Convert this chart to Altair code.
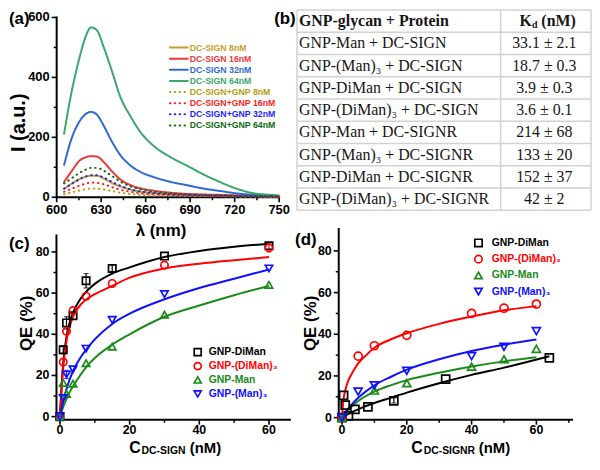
import altair as alt
import pandas as pd

W, H = 588, 448
FONT = "Liberation Sans"
SERIF = "Liberation Serif"

# ---------------- Panel (a): emission spectra ----------------
wavelength = [605, 610, 615, 620, 623, 627, 632, 637, 643, 650, 657, 665, 677, 688, 699, 710, 721, 733, 744, 750]
i_sign_8 = [28, 45, 60, 69, 72, 72, 62, 48, 36, 25, 18, 14, 10, 8, 7, 6, 5, 4, 3, 3]
i_sign_16 = [51, 86, 120, 134, 137, 136, 116, 88, 59, 40, 29, 22, 15, 11, 9, 8, 6, 5, 4, 4]
i_sign_32 = [108, 195, 250, 279, 285, 276, 236, 188, 140, 105, 83, 68, 51, 40, 29, 21, 13, 8, 6, 5]
i_sign_64 = [212, 350, 458, 542, 567, 558, 497, 425, 334, 268, 214, 173, 133, 105, 76, 51, 29, 13, 8, 5]
i_gnp_8 = [10, 16, 22, 27, 29, 29, 26, 21, 15, 11, 8, 6, 5, 4, 3, 3, 2, 2, 2, 2]
i_gnp_16 = [18, 28, 38, 46, 49, 48, 43, 34, 25, 18, 13, 10, 7, 6, 5, 4, 3, 3, 2, 2]
i_gnp_32 = [29, 44, 59, 70, 73, 73, 65, 52, 38, 26, 19, 14, 10, 8, 6, 5, 4, 3, 3, 2]
i_gnp_64 = [46, 63, 80, 93, 98, 98, 88, 72, 52, 36, 26, 19, 13, 10, 8, 6, 5, 4, 3, 3]
series_a = ["DC-SIGN 8nM", "DC-SIGN 16nM", "DC-SIGN 32nM", "DC-SIGN 64nM",
            "DC-SIGN+GNP 8nM", "DC-SIGN+GNP 16nM", "DC-SIGN+GNP 32nM", "DC-SIGN+GNP 64nM"]
values_a = [i_sign_8, i_sign_16, i_sign_32, i_sign_64, i_gnp_8, i_gnp_16, i_gnp_32, i_gnp_64]
line_colors_a = ["#C0A030", "#E8393B", "#2F6BD3", "#3AA86B", "#B0A010", "#FF1E1E", "#1E1EFF", "#0B6B12"]
text_colors_a = ["#C39A45", "#E8393B", "#1E3FE0", "#2E8B45", "#C39A45", "#FF1E1E", "#1E3FE0", "#2E8B45"]
ticks_a_x = [600, 630, 660, 690, 720, 750]
ticks_a_y = [0, 200, 400, 600]
minor_a_x = [615, 645, 675, 705, 735]
minor_a_y = [100, 300, 500]

# ---------------- Panel (b): table ----------------
table_glycan = ["GNP-Man + DC-SIGN", "GNP-(Man)\u2083 + DC-SIGN", "GNP-DiMan + DC-SIGN",
                "GNP-(DiMan)\u2083 + DC-SIGN", "GNP-Man + DC-SIGNR", "GNP-(Man)\u2083 + DC-SIGNR",
                "GNP-DiMan + DC-SIGNR", "GNP-(DiMan)\u2083 + DC-SIGNR"]
table_kd = ["33.1 \u00b1 2.1", "18.7 \u00b1 0.3", "3.9 \u00b1 0.3", "3.6 \u00b1 0.1",
            "214 \u00b1 68", "133 \u00b1 20", "152 \u00b1 37", "42 \u00b1 2"]

# ---------------- Panel (c): QE vs DC-SIGN ----------------
series_q = ["GNP-DiMan", "GNP-(DiMan)\u2083", "GNP-Man", "GNP-(Man)\u2083"]
conc_c = [0, 0.94, 1.88, 3.75, 7.5, 15, 30, 60]
qe_c_diman = [0, 32.5, 45.5, 49, 66, 72, 78, 83]
qe_c_diman3 = [0, 26.5, 41.5, 51.5, 58.5, 64.7, 73.6, 82]
qe_c_man = [0, 16.4, 11, 16, 26, 34, 49.5, 64]
qe_c_man3 = [0, 9, 20.5, 23, 33, 47, 59.5, 72]
fit_x_c = [0, 0.5, 1, 2, 3, 4, 6, 8, 10, 15, 20, 30, 40, 50, 60]
fit_c_diman = [0, 16, 27, 40, 47, 51.5, 57.5, 61.5, 64.5, 69.5, 72.5, 77.5, 80.5, 82.5, 84]
fit_c_diman3 = [0, 14, 25, 38, 45, 49.5, 54.5, 57.5, 59.5, 63.5, 67.5, 72, 74.3, 76, 77.5]
fit_c_man = [0, 2.5, 5, 9, 12.5, 15.5, 20.5, 25, 28.5, 35, 40, 48.5, 54, 59, 63.5]
fit_c_man3 = [0, 4, 8, 14, 19, 23, 29, 33.5, 37.5, 45, 50, 57, 62.5, 67, 71.5]
err_c_series = ["GNP-DiMan", "GNP-DiMan", "GNP-DiMan", "GNP-DiMan", "GNP-(Man)\u2083", "GNP-(DiMan)\u2083"]
err_c_x = [0.94, 1.88, 7.5, 15, 1.88, 60]
err_c_lo = [30.5, 42.5, 62.5, 70.5, 18.5, 80]
err_c_hi = [34.5, 48.5, 69.5, 73.5, 22.5, 84]

# ---------------- Panel (d): QE vs DC-SIGNR ----------------
conc_d_diman = [0, 0.5, 1, 2, 4, 8, 16, 32, 64]
qe_d_diman = [0, 10.7, 6, 0.8, 4, 5.2, 8, 18.5, 28.7]
conc_d_other = [0, 5, 10, 20, 40, 50, 60]
qe_d_diman3 = [0, 29.5, 34.5, 39.5, 50, 52.5, 54.5]
qe_d_man3 = [0, 12.5, 15.5, 22.5, 29.5, 34, 41.5]
conc_d_man = [0, 10, 20, 40, 50, 60]
qe_d_man = [0, 13, 16.5, 24.5, 28, 33]
fit_x_d_diman = [0, 2, 5, 10, 15, 20, 30, 40, 50, 64]
fit_d_diman = [0, 1.8, 4, 7, 9.5, 12, 16.5, 20.5, 24, 29.5]
fit_x_d_diman3 = [0, 0.5, 1, 2, 3, 5, 7.5, 10, 15, 20, 30, 40, 50, 60]
fit_d_diman3 = [0, 9, 13, 18, 21, 26, 30, 33.5, 37.5, 40.5, 45, 48.5, 51.5, 53.5]
fit_x_d_other = [0, 1, 2, 5, 10, 15, 20, 30, 40, 50, 60]
fit_d_man = [0, 2, 3.8, 8, 12.5, 15.5, 18, 21.5, 24.5, 27, 29]
fit_d_man3 = [0, 2.5, 4.5, 9.5, 15.5, 19.5, 23, 28, 32, 35, 37.5]
err_d_series = ["GNP-DiMan"]
err_d_x = [16]
err_d_lo = [7]
err_d_hi = [9.5]

ticks_q_x = [0, 20, 40, 60]
ticks_q_y = [0, 20, 40, 60, 80]
minor_c_x = [10, 30, 50]
minor_d_x = [10, 30, 50, 70]
minor_q_y = [10, 30, 50, 70]

colors_q = ["#000000", "#FF0000", "#1A8A1A", "#1010FF"]
text_colors_q = ["#000000", "#FF1010", "#1A8A1A", "#2020C8"]
shapes_q = ["square", "circle", "triangle-up", "triangle-down"]


# ---------------- helpers ----------------
def label(text, x, y, size, weight="bold", angle=0, align="left", baseline="alphabetic",
          color="black", font=FONT):
    return alt.Chart(pd.DataFrame({"t": [text]})).mark_text(
        text=text, font=font, fontSize=size, fontWeight=weight, angle=angle, align=align,
        baseline=baseline, color=color).encode(x=alt.value(x), y=alt.value(y))


def long_df(xs_list, ys_list, names):
    rows = []
    for xs, ys, n in zip(xs_list, ys_list, names):
        for a, b in zip(xs, ys):
            rows.append({"x": a, "y": b, "series": n})
    return pd.DataFrame(rows)


def axes_layers(xs_, ys_, xdom, ydom, xticks, yticks, minor_x, minor_y, x0, y0, lsize=13, lpad=7):
    """Axis lines, ticks and tick labels, all placed through the panel's scales."""
    out = []
    out.append(alt.Chart(pd.DataFrame({"a": [xdom[0]], "b": [xdom[1]]})).mark_rule(
        color="black", strokeWidth=2, strokeCap="square").encode(
        x=alt.X("a:Q", scale=xs_, axis=None), x2="b:Q", y=alt.value(y0)))
    out.append(alt.Chart(pd.DataFrame({"a": [ydom[0]], "b": [ydom[1]]})).mark_rule(
        color="black", strokeWidth=2, strokeCap="square").encode(
        y=alt.Y("a:Q", scale=ys_, axis=None), y2="b:Q", x=alt.value(x0)))
    dxt = pd.DataFrame({"v": xticks})
    dyt = pd.DataFrame({"v": yticks})
    out.append(alt.Chart(dxt).mark_rule(color="black", strokeWidth=1.6).encode(
        x=alt.X("v:Q", scale=xs_, axis=None), y=alt.value(y0), y2=alt.value(y0 + 5)))
    out.append(alt.Chart(pd.DataFrame({"v": minor_x})).mark_rule(color="black", strokeWidth=1.5).encode(
        x=alt.X("v:Q", scale=xs_, axis=None), y=alt.value(y0), y2=alt.value(y0 + 3)))
    out.append(alt.Chart(dxt).mark_text(font=FONT, fontSize=lsize, fontWeight="bold", baseline="top",
                                        align="center", color="black").encode(
        x=alt.X("v:Q", scale=xs_, axis=None), y=alt.value(y0 + lpad), text=alt.Text("v:Q", format="d")))
    out.append(alt.Chart(dyt).mark_rule(color="black", strokeWidth=1.6).encode(
        y=alt.Y("v:Q", scale=ys_, axis=None), x=alt.value(x0 - 5), x2=alt.value(x0)))
    out.append(alt.Chart(pd.DataFrame({"v": minor_y})).mark_rule(color="black", strokeWidth=1.5).encode(
        y=alt.Y("v:Q", scale=ys_, axis=None), x=alt.value(x0 - 3), x2=alt.value(x0)))
    out.append(alt.Chart(dyt).mark_text(font=FONT, fontSize=lsize, fontWeight="bold", baseline="middle",
                                        align="right", color="black").encode(
        y=alt.Y("v:Q", scale=ys_, axis=None), x=alt.value(x0 - 7), text=alt.Text("v:Q", format="d")))
    return out


# ---------------- Panel (a) ----------------
A_X0, A_X1, A_Y0, A_Y1 = 49, 273, 189, 8
A_XDOM, A_YDOM = [600, 750], [0, 600]
xa = alt.Scale(domain=A_XDOM, range=[A_X0, A_X1], nice=False, zero=False)
ya = alt.Scale(domain=A_YDOM, range=[A_Y0, A_Y1], nice=False, zero=False)
df_a = long_df([wavelength] * 8, values_a, series_a)
dash_range = [[1, 0]] * 4 + [[0.5, 4.6]] * 4
width_range = [2, 2, 2, 2, 3, 3, 3, 3]

lines_a = alt.Chart(df_a).mark_line(interpolate="monotone", strokeCap="round").encode(
    x=alt.X("x:Q", scale=xa, axis=None),
    y=alt.Y("y:Q", scale=ya, axis=None),
    color=alt.Color("series:N", scale=alt.Scale(domain=series_a, range=line_colors_a), legend=None),
    strokeDash=alt.StrokeDash("series:N", scale=alt.Scale(domain=series_a, range=dash_range), legend=None),
    strokeWidth=alt.StrokeWidth("series:N", scale=alt.Scale(domain=series_a, range=width_range), legend=None),
    order=alt.Order("x:Q"),
)
panel_a = alt.layer(*axes_layers(xa, ya, A_XDOM, A_YDOM, ticks_a_x, ticks_a_y, minor_a_x, minor_a_y,
                                 A_X0, A_Y0), lines_a)

leg_a_df = pd.DataFrame({"series": series_a})
leg_a_y = alt.Y("series:N", scale=alt.Scale(type="point", domain=series_a, range=[38.3, 116.7], padding=0), axis=None)
leg_a_lines = alt.Chart(leg_a_df).mark_rule(strokeCap="round").encode(
    x=alt.value(163), x2=alt.value(181), y=leg_a_y,
    color=alt.Color("series:N", scale=alt.Scale(domain=series_a, range=line_colors_a), legend=None),
    strokeDash=alt.StrokeDash("series:N", scale=alt.Scale(domain=series_a, range=[[1, 0]] * 4 + [[0.5, 4.4]] * 4), legend=None),
    strokeWidth=alt.StrokeWidth("series:N", scale=alt.Scale(domain=series_a, range=[2, 2, 2, 2, 2.8, 2.8, 2.8, 2.8]), legend=None),
)
leg_a_text = alt.Chart(leg_a_df).mark_text(align="left", baseline="middle", font=FONT, fontSize=8.8,
                                           fontWeight="bold").encode(
    x=alt.value(183), y=leg_a_y, text="series:N",
    color=alt.Color("series:N", scale=alt.Scale(domain=series_a, range=text_colors_a), legend=None),
)
legend_a = alt.layer(leg_a_lines, leg_a_text)

# ---------------- Panel (b) table ----------------
T_X0, T_XD, T_X1, T_Y0, T_Y1 = 291, 496, 587, 0.5, 202
yt = alt.Scale(domain=[0, 9], range=[T_Y0, T_Y1], nice=False, zero=False)
df_t = pd.DataFrame({"glycan": table_glycan, "kd": table_kd,
                     "mid": [i + 1.5 for i in range(len(table_glycan))]})
t_left = alt.Chart(df_t).mark_text(align="left", baseline="middle", font=SERIF, fontSize=16,
                                   color="#151515").encode(
    x=alt.value(T_X0 + 2), y=alt.Y("mid:Q", scale=yt, axis=None), text="glycan:N")
t_right = alt.Chart(df_t).mark_text(align="center", baseline="middle", font=SERIF, fontSize=16,
                                    color="#151515").encode(
    x=alt.value(540), y=alt.Y("mid:Q", scale=yt, axis=None), text="kd:N")
hdr = pd.DataFrame({"mid": [0.5]})
t_h1 = alt.Chart(hdr).mark_text(text="GNP-glycan + Protein", align="left", baseline="middle", font=SERIF,
                                fontSize=16, fontWeight="bold", color="#151515").encode(
    x=alt.value(T_X0 + 2), y=alt.Y("mid:Q", scale=yt, axis=None))
t_h2 = alt.Chart(hdr).mark_text(text="K", align="left", baseline="middle", font=SERIF,
                                fontSize=16, fontWeight="bold", color="#151515").encode(
    x=alt.value(515), y=alt.Y("mid:Q", scale=yt, axis=None))
t_h3 = alt.Chart(hdr).mark_text(text="d", align="left", baseline="middle", font=SERIF, dy=4,
                                fontSize=10, fontWeight="bold", color="#151515").encode(
    x=alt.value(527.5), y=alt.Y("mid:Q", scale=yt, axis=None))
t_h4 = alt.Chart(hdr).mark_text(text="(nM)", align="left", baseline="middle", font=SERIF,
                                fontSize=16, fontWeight="bold", color="#151515").encode(
    x=alt.value(537), y=alt.Y("mid:Q", scale=yt, axis=None))
t_hlines = alt.Chart(pd.DataFrame({"b": list(range(10))})).mark_rule(color="#d2d2d2", strokeWidth=1.5).encode(
    y=alt.Y("b:Q", scale=yt, axis=None), x=alt.value(T_X0), x2=alt.value(T_X1))
t_vlines = alt.Chart(pd.DataFrame({"c": [T_X0, T_XD, T_X1]})).mark_rule(color="#d2d2d2", strokeWidth=1.5).encode(
    x=alt.X("c:Q", scale=alt.Scale(domain=[0, W], range=[0, W], nice=False, zero=False), axis=None),
    y=alt.value(T_Y0), y2=alt.value(T_Y1))
table_b = alt.layer(t_hlines, t_vlines, t_left, t_right, t_h1, t_h2, t_h3, t_h4)


# ---------------- Panels (c) and (d) ----------------
def qe_panel(xs, ys, fx, fy, ex, es, elo, ehi, x0, x1, y0, y1, xdom, ydom, minor_x, psize):
    xs_ = alt.Scale(domain=xdom, range=[x0, x1], nice=False, zero=False)
    ys_ = alt.Scale(domain=ydom, range=[y0, y1], nice=False, zero=False)
    col = alt.Color("series:N", scale=alt.Scale(domain=series_q, range=colors_q), legend=None)
    shp = alt.Shape("series:N", scale=alt.Scale(domain=series_q, range=shapes_q), legend=None)
    df_fit = long_df(fx, fy, series_q)
    df_pts = long_df(xs, ys, series_q)
    df_err = pd.DataFrame({"x": ex, "series": es, "lo": elo, "hi": ehi})
    df_cap = pd.concat([df_err.assign(y=df_err["lo"]), df_err.assign(y=df_err["hi"])])
    fit = alt.Chart(df_fit).mark_line(strokeWidth=2, interpolate="monotone").encode(
        x=alt.X("x:Q", scale=xs_, axis=None), y=alt.Y("y:Q", scale=ys_, axis=None),
        color=col, order=alt.Order("x:Q"))
    err = alt.Chart(df_err).mark_rule(strokeWidth=1.2).encode(
        x=alt.X("x:Q", scale=xs_, axis=None), y=alt.Y("lo:Q", scale=ys_, axis=None), y2="hi:Q", color=col)
    cap = alt.Chart(df_cap).mark_tick(orient="horizontal", size=5, thickness=1.2).encode(
        x=alt.X("x:Q", scale=xs_, axis=None), y=alt.Y("y:Q", scale=ys_, axis=None), color=col)
    pts = alt.Chart(df_pts).mark_point(filled=False, size=psize, strokeWidth=1.7, opacity=1).encode(
        x=alt.X("x:Q", scale=xs_, axis=None), y=alt.Y("y:Q", scale=ys_, axis=None), color=col, shape=shp)
    ax = axes_layers(xs_, ys_, xdom, ydom, ticks_q_x, ticks_q_y, minor_x, minor_q_y, x0, y0,
                     lsize=12.5, lpad=4)
    return alt.layer(*ax, fit, err, cap, pts)


def qe_legend(x_sym, x_txt, y_first, y_last, size, psize):
    df = pd.DataFrame({"series": series_q})
    yy = alt.Y("series:N", scale=alt.Scale(type="point", domain=series_q, range=[y_first, y_last], padding=0), axis=None)
    sym = alt.Chart(df).mark_point(filled=False, size=psize, strokeWidth=1.7, opacity=1).encode(
        x=alt.value(x_sym), y=yy,
        color=alt.Color("series:N", scale=alt.Scale(domain=series_q, range=colors_q), legend=None),
        shape=alt.Shape("series:N", scale=alt.Scale(domain=series_q, range=shapes_q), legend=None))
    txt = alt.Chart(df).mark_text(align="left", baseline="middle", font=FONT, fontSize=size,
                                  fontWeight="bold").encode(
        x=alt.value(x_txt), y=yy, text="series:N",
        color=alt.Color("series:N", scale=alt.Scale(domain=series_q, range=text_colors_q), legend=None))
    return alt.layer(sym, txt)


panel_c = qe_panel([conc_c] * 4, [qe_c_diman, qe_c_diman3, qe_c_man, qe_c_man3],
                   [fit_x_c] * 4, [fit_c_diman, fit_c_diman3, fit_c_man, fit_c_man3],
                   err_c_x, err_c_series, err_c_lo, err_c_hi,
                   48.8, 283.8, 413, 227.5, [-1, 66], [-1.5, 88], minor_c_x, 55)
legend_c = qe_legend(191, 202, 345, 387, 10.5, 50)

panel_d = qe_panel([conc_d_diman, conc_d_other, conc_d_man, conc_d_other],
                   [qe_d_diman, qe_d_diman3, qe_d_man, qe_d_man3],
                   [fit_x_d_diman, fit_x_d_diman3, fit_x_d_other, fit_x_d_other],
                   [fit_d_diman, fit_d_diman3, fit_d_man, fit_d_man3],
                   err_d_x, err_d_series, err_d_lo, err_d_hi,
                   333.0, 567.9, 413, 221, [-1, 71], [-1, 90.5], minor_d_x, 65)
legend_d = qe_legend(473.7, 487, 235, 284, 10.5, 55)

# ---------------- titles & panel labels ----------------
texts = [
    label("(a)", 1, 15, 17), label("(b)", 268, 15, 17),
    label("(c)", 1, 241, 17), label("(d)", 289, 237, 17),
    label("I (a.u.)", 11, 114, 20, angle=270, align="center", baseline="middle"),
    label("\u03bb (nm)", 154, 215, 17, align="center", baseline="top"),
    label("QE (%)", 19, 316, 17, angle=270, align="center", baseline="middle"),
    label("QE (%)", 305, 316, 17, angle=270, align="center", baseline="middle"),
    label("C", 122, 446.5, 16), label("DC-SIGN", 134.5, 448, 10.5), label("(nM)", 183, 446.5, 15),
    label("C", 406, 446.5, 16), label("DC-SIGNR", 418.5, 448, 10.5), label("(nM)", 474, 446.5, 15),
]

chart = alt.layer(panel_a, legend_a, table_b, panel_c, legend_c, panel_d, legend_d, *texts).resolve_scale(
    x="independent", y="independent", color="independent", shape="independent",
    strokeDash="independent", strokeWidth="independent").properties(
    width=W, height=H, padding=0, autosize=alt.AutoSizeParams(type="none"),
    background="white").configure_view(strokeWidth=0)

chart.save("out.html", embed_options={"renderer": "svg", "actions": False})
